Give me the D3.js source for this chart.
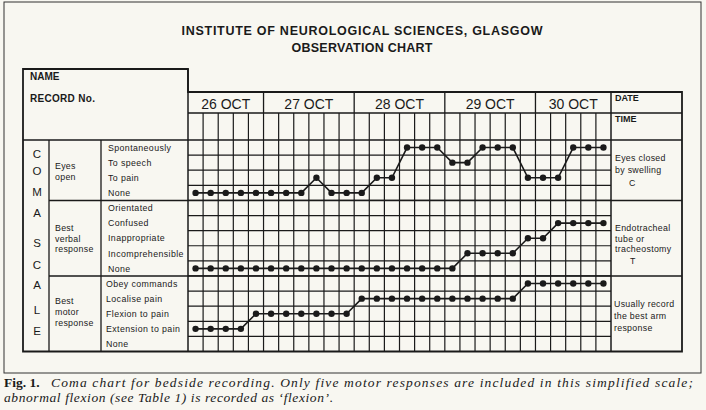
<!DOCTYPE html>
<html lang="en">
<head>
<meta charset="utf-8">
<title>Glasgow Coma Chart</title>
<script src="https://d3js.org/d3.v7.min.js"></script>
<style>
  body { margin: 0; background: #f8f7f1; }
  text { font-family: "Liberation Sans", Arial, sans-serif; fill: #1a1a1a; }
</style>
</head>
<body>
<script>
var w = 706, h = 410;

// chart data
var dates = ["26 OCT", "27 OCT", "28 OCT", "29 OCT", "30 OCT"];
var dateCols = [5, 6, 6, 6, 5];

var eyesLabels = ["Spontaneously", "To speech", "To pain", "None"];
var verbalLabels = ["Orientated", "Confused", "Inappropriate", "Incomprehensible", "None"];
var motorLabels = ["Obey commands", "Localise pain", "Flexion to pain", "Extension to pain", "None"];

// scores per observation (1 = None)
var eyes   = [1,1,1,1,1,1,1,1,2,1,1,1,2,2,4,4,4,3,3,4,4,4,2,2,2,4,4,4];
var verbal = [1,1,1,1,1,1,1,1,1,1,1,1,1,1,1,1,1,1,2,2,2,2,3,3,4,4,4,4];
var motor  = [2,2,2,2,3,3,3,3,3,3,3,4,4,4,4,4,4,4,4,4,4,4,5,5,5,5,5,5];

var svg = d3.select("body").append("svg")
    .attr("width", w)
    .attr("height", h);

var gridL = 188, gridR = 611, boxL = 23, boxR = 682;
var top0 = 140, bottom0 = 351.5;
var rowH = (bottom0 - top0) / 14;

var nCols = eyes.length;
var x = d3.scaleBand().domain(d3.range(nCols)).range([gridL, gridR]);

var sections = [
  { name: ["Eyes", "open"], labels: eyesLabels, data: eyes, start: 0 },
  { name: ["Best", "verbal", "response"], labels: verbalLabels, data: verbal, start: 4 },
  { name: ["Best", "motor", "response"], labels: motorLabels, data: motor, start: 9 }
];
sections.forEach(function(s) {
  var n = s.labels.length;
  s.y0 = top0 + s.start * rowH;
  s.y1 = s.y0 + n * rowH;
  s.y = d3.scaleBand().domain(d3.range(n, 0, -1)).range([s.y0, s.y1]);
});

function line(x1, y1, x2, y2, sw) {
  svg.append("line").attr("x1", x1).attr("y1", y1).attr("x2", x2).attr("y2", y2)
     .attr("stroke", "#1a1a1a").attr("stroke-width", sw || 1.2);
}

// page frame
svg.append("rect").attr("x", 4).attr("y", 2).attr("width", 697).attr("height", 371)
   .attr("fill", "none").attr("stroke", "#333").attr("stroke-width", 1);

// title
svg.append("text").attr("x", 362).attr("y", 35).attr("text-anchor", "middle")
   .attr("font-size", 12.5).attr("font-weight", "bold")
   .attr("textLength", 361).attr("lengthAdjust", "spacing")
   .text("INSTITUTE OF NEUROLOGICAL SCIENCES, GLASGOW");
svg.append("text").attr("x", 362).attr("y", 51.5).attr("text-anchor", "middle")
   .attr("font-size", 12.5).attr("font-weight", "bold")
   .attr("textLength", 141).attr("lengthAdjust", "spacing")
   .text("OBSERVATION CHART");

// grid rows and columns
for (var k = 1; k < 14; k++) line(gridL, top0 + k * rowH, gridR, top0 + k * rowH, 1.2);
d3.range(1, nCols).forEach(function(i) { line(x(i), 113, x(i), bottom0, 1.2); });

// date header
var cum = 0;
dates.forEach(function(d, i) {
  var a = x(cum), b = cum + dateCols[i] < nCols ? x(cum + dateCols[i]) : gridR;
  svg.append("text").attr("x", (a + b) / 2).attr("y", 108.5).attr("text-anchor", "middle")
     .attr("font-size", 14).text(d);
  cum += dateCols[i];
  if (cum < nCols) line(x(cum), 92, x(cum), 113, 1.3);
});

// box structure
svg.append("path")
   .attr("d", "M" + boxL + ",69H" + gridL + "V92H" + boxR + "V" + bottom0 + "H" + boxL + "Z")
   .attr("fill", "none").attr("stroke", "#1a1a1a").attr("stroke-width", 1.8);
line(gridL, 69, gridL, bottom0, 1.5);
line(gridL, 113, boxR, 113, 1.3);
line(boxL, top0, boxR, top0, 1.5);
line(gridR, 92, gridR, bottom0, 1.5);
line(49, top0, 49, bottom0, 1.3);
line(101, top0, 101, bottom0, 1.3);
line(49, sections[1].y0, boxR, sections[1].y0, 1.5);
line(49, sections[2].y0, boxR, sections[2].y0, 1.5);

// name / record
svg.append("text").attr("x", 30).attr("y", 80).attr("font-size", 10).attr("font-weight", "bold").text("NAME");
svg.append("text").attr("x", 30).attr("y", 102).attr("font-size", 10).attr("font-weight", "bold")
   .attr("letter-spacing", 0.3).text("RECORD No.");
svg.append("text").attr("x", 615).attr("y", 101).attr("font-size", 9).attr("font-weight", "bold").text("DATE");
svg.append("text").attr("x", 615).attr("y", 122).attr("font-size", 9).attr("font-weight", "bold").text("TIME");

// COMA SCALE letters
var letters = "COMASCALE".split("");
var letterY = [154, 171, 192, 213, 243, 265, 285, 310, 331];
letters.forEach(function(c, i) {
  svg.append("text").attr("x", 37).attr("y", letterY[i] + 4.3).attr("text-anchor", "middle")
     .attr("font-size", 11.5).text(c);
});

// section names and item labels
var nameY = [[166, 177], [228, 238.5, 249], [301, 312, 323]];
sections.forEach(function(s, si) {
  s.name.forEach(function(t, j) {
    svg.append("text").attr("x", 55).attr("y", nameY[si][j] + 3.2)
       .attr("font-size", 8.8).attr("letter-spacing", 0.3).text(t);
  });
  s.labels.forEach(function(t, j) {
    var lv = s.labels.length - j;
    svg.append("text").attr("x", si === 2 ? 106 : 108).attr("y", s.y(lv) + s.y.bandwidth() / 2 + 3.3)
       .attr("font-size", 8.8).attr("letter-spacing", 0.4).text(t);
  });
});

// right notes
var notes = [
  { lines: ["Eyes closed", "by swelling", "C"], ys: [158, 169.5, 182.5], xs: [615, 615, 629] },
  { lines: ["Endotracheal", "tube or", "tracheostomy", "T"], ys: [227.5, 238.5, 249, 261], xs: [615, 615, 615, 630] },
  { lines: ["Usually record", "the best arm", "response"], ys: [303.5, 316, 327.5], xs: [614, 614, 614] }
];
notes.forEach(function(n) {
  n.lines.forEach(function(t, j) {
    svg.append("text").attr("x", n.xs[j]).attr("y", n.ys[j] + 3.3)
       .attr("font-size", 8.8).attr("letter-spacing", 0.3).text(t);
  });
});

// observation lines and dots
sections.forEach(function(s) {
  var cx = function(d, i) { return x(i) + x.bandwidth() / 2; };
  var cy = function(d) { return s.y(d) + s.y.bandwidth() / 2; };
  svg.append("path").datum(s.data)
     .attr("d", d3.line().x(cx).y(cy))
     .attr("fill", "none").attr("stroke", "#1a1a1a").attr("stroke-width", 1.6);
  svg.selectAll(null).data(s.data).enter().append("circle")
     .attr("cx", cx).attr("cy", cy).attr("r", 3.2)
     .attr("fill", "#1a1a1a");
});

// caption
svg.append("text").attr("x", 4).attr("y", 386.5)
   .style("font-family", "'Liberation Serif', serif")
   .attr("font-size", 13.5).attr("font-weight", "bold")
   .text("Fig. 1.");
svg.append("text").attr("x", 51).attr("y", 386.5)
   .style("font-family", "'Liberation Serif', serif")
   .attr("font-size", 13.5).attr("font-style", "italic")
   .attr("textLength", 642).attr("lengthAdjust", "spacing")
   .text("Coma chart for bedside recording. Only five motor responses are included in this simplified scale;");
svg.append("text").attr("x", 4).attr("y", 402)
   .style("font-family", "'Liberation Serif', serif")
   .attr("font-size", 13.5).attr("font-style", "italic")
   .attr("textLength", 329).attr("lengthAdjust", "spacing")
   .text("abnormal flexion (see Table 1) is recorded as \u2018flexion\u2019.");
</script>
</body>
</html>
